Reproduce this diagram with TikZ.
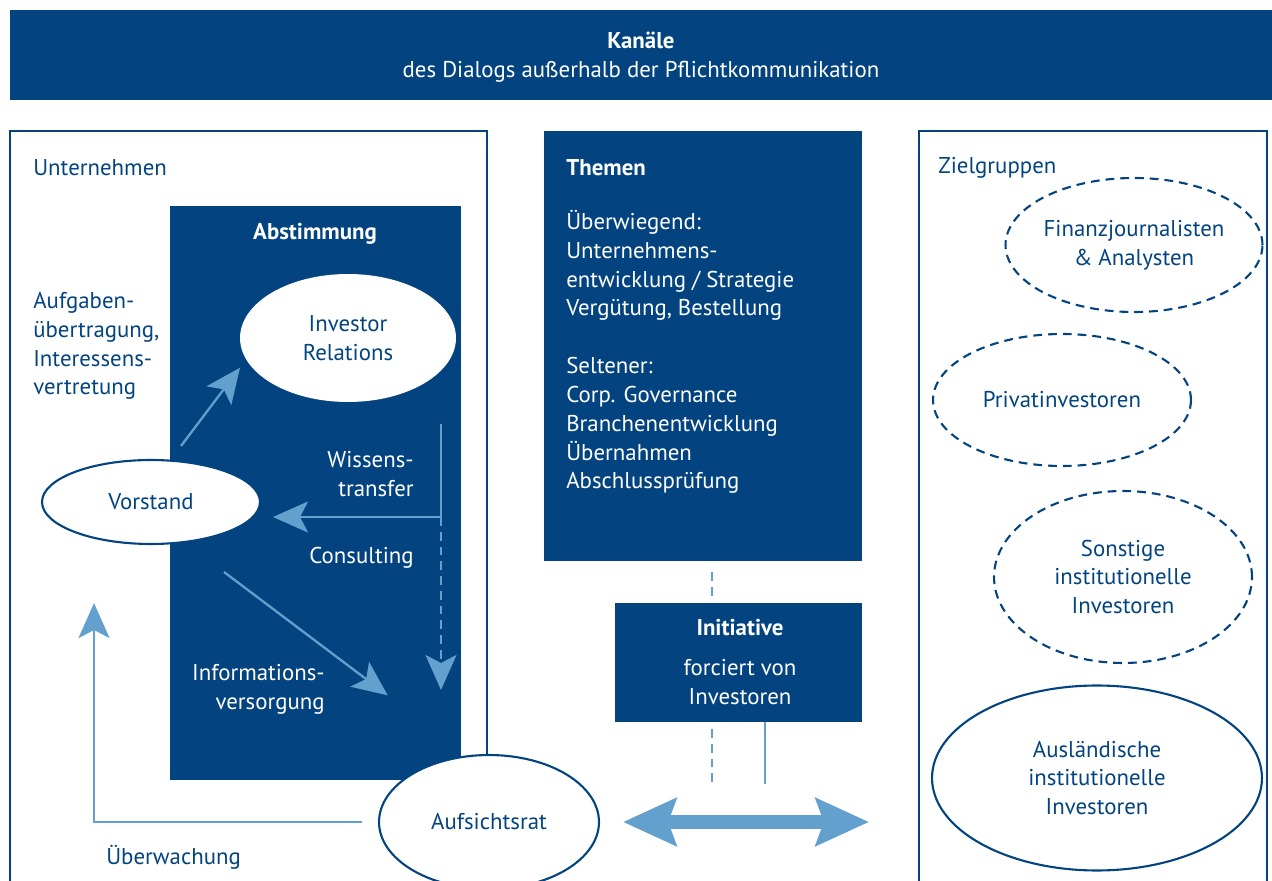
\documentclass[tikz,border=0pt]{standalone}
\usepackage{fontspec}
\setmainfont{PT Sans}
\usetikzlibrary{arrows.meta,shapes.geometric,positioning}

\definecolor{dunkelblau}{RGB}{3,68,128}
\definecolor{hellblau}{RGB}{99,160,206}

\tikzset{
    schrift/.style={font=\fontsize{13}{16.4}\selectfont,inner sep=0pt},
    blautext/.style={schrift,text=dunkelblau},
    weisstext/.style={schrift,text=white},
    kasten/.style={fill=dunkelblau,draw=none,inner sep=0pt},
    rahmen/.style={draw=dunkelblau,line width=1.2pt},
    oval/.style={ellipse,schrift,align=center,inner sep=0pt},
    gestrichelt/.style={dash pattern=on 5pt off 3.4pt},
    duenn/.style={draw=hellblau,line width=1.3pt},
    duennpfeil/.style={duenn,-{Stealth[length=0.7cm,width=0.62cm,inset=0.16cm]}},
    doppelpfeil/.style={draw=hellblau,line width=0.3cm,
        {Stealth[length=1.06cm,width=0.94cm,inset=0.16cm]}-{Stealth[length=1.06cm,width=0.94cm,inset=0.16cm]}}
}

\begin{document}
\begin{tikzpicture}[x=0.02cm,y=-0.02cm]

% Fix the page size.
\useasboundingbox (0,0) rectangle (1272,881);

% Title banner.
\node[kasten,minimum width=25.24cm,minimum height=1.8cm] (banner) at (641,55) {};
\node[weisstext,align=center] (kanaele) at (641,57)
    {\textbf{Kanäle}\\des Dialogs außerhalb der Pflichtkommunikation};

% Left frame: Unternehmen.
\draw[rahmen]
    (10,890) -- (10,131)
    -- (487,131)
    -- (487,790);
\node[blautext,anchor=west] (unternehmen) at (33,168) {Unternehmen};

% Abstimmung body.
\node[kasten,anchor=north west,minimum width=5.82cm,minimum height=11.48cm]
    (abstimmung) at (170,206) {};
\node[weisstext,font=\fontsize{13}{16.4}\selectfont\bfseries] (abstimmungtitel) at (315,234) {Abstimmung};

% Ellipses inside the left frame.
\node[oval,fill=white,minimum width=4.32cm,minimum height=2.56cm,text=dunkelblau]
    (ir) at (348,338) {Investor\\Relations};
\node[oval,fill=white,rahmen,minimum width=4.36cm,minimum height=1.68cm,text=dunkelblau]
    (vorstand) at (151,502) {Vorstand};

% Labels of the left frame.
\node[blautext,anchor=west,align=left] (aufgaben) at (33,346)
    {Aufgaben-\\übertragung,\\Interessens-\\vertretung};
\node[weisstext,anchor=east,align=right] (wissen) at (414,474) {Wissens-\\transfer};
\node[weisstext,anchor=east] (consulting) at (414,558) {Consulting};
\node[weisstext,anchor=east,align=right] (information) at (325,689) {Informations-\\versorgung};
\node[blautext,anchor=west] (ueberwachung) at (106,857) {Überwachung};

% Arrows inside the left frame.
\coordinate (auf) at (181,446);
\coordinate (wt) at (441,517);
\coordinate (info) at (224,572);
\draw[duennpfeil] (auf) -- ++(53:1.96cm);
\draw[duenn]
    % start above the knee
    (441,424) -- (wt);
\draw[duennpfeil] (wt) -- ++(180:3.36cm);
\draw[duennpfeil,gestrichelt] (wt) -- ++(270:3.46cm);
\draw[duennpfeil] (info) -- ++(-37:4.1cm);

% Aufsichtsrat and the Ueberwachung arrow.
\node[oval,fill=white,rahmen,minimum width=4.4cm,minimum height=2.68cm,text=dunkelblau]
    (aufsichtsrat) at (489,822) {Aufsichtsrat};
\draw[duennpfeil]
    (aufsichtsrat.west) ++(180:0.32cm)
    % go left
    -- ++(180:5.36cm)
    % go up
    -- ++(90:4.38cm);

% Themen box.
\node[kasten,anchor=north west,minimum width=6.36cm,minimum height=8.6cm]
    (themen) at (544,131) {};
\node[weisstext,anchor=west,font=\fontsize{13}{16.4}\selectfont\bfseries] (thementitel) at (566,168) {Themen};
\node[weisstext,anchor=west,align=left] (themenliste) at (566,352)
    {Überwiegend:\\Unternehmens-\\entwicklung / Strategie\\Vergütung, Bestellung\\[16.4pt]
     Seltener:\\Corp. Governance\\Branchenentwicklung\\Übernahmen\\Abschlussprüfung};

% Initiative box.
\node[kasten,anchor=north west,minimum width=4.94cm,minimum height=2.38cm]
    (initiative) at (615,603) {};
\node[weisstext,font=\fontsize{13}{16.4}\selectfont\bfseries] (initiativetitel) at (740,628) {Initiative};
\node[weisstext,align=center] (forciert) at (740,682) {forciert von\\Investoren};

% Links above and below the Initiative box.
\coordinate (t1) at (712,572);
\coordinate (t2) at (712,729);
\coordinate (t3) at (765,722);
\draw[duenn,gestrichelt] (t1) -- ++(270:0.48cm);
\draw[duenn,gestrichelt] (t2) -- ++(270:1.1cm);
\draw[duenn] (t3) -- ++(270:1.24cm);

% Dialog arrow.
\draw[doppelpfeil]
    (aufsichtsrat.east) ++(0:0.46cm) coordinate (dl)
    -- ++(0:4.92cm) coordinate (dr);

% Right frame: Zielgruppen.
\draw[rahmen]
    (919,890) -- (919,131)
    -- (1267,131)
    -- (1267,890);
\node[blautext,anchor=west] (zielgruppen) at (938,168) {Zielgruppen};

% Target groups.
\node[oval,rahmen,gestrichelt,minimum width=5.14cm,minimum height=2.68cm,text=dunkelblau]
    (finanz) at (1134,245) {Finanzjournalisten\\\& Analysten};
\node[oval,rahmen,gestrichelt,minimum width=5.16cm,minimum height=2.64cm,text=dunkelblau]
    (privat) at (1062,400) {Privatinvestoren};
\node[oval,rahmen,gestrichelt,minimum width=5.16cm,minimum height=3.44cm,text=dunkelblau]
    (sonstige) at (1123,577) {Sonstige\\institutionelle\\Investoren};
\node[oval,rahmen,minimum width=6.6cm,minimum height=3.7cm,text=dunkelblau]
    (auslaendisch) at (1097,778) {Ausländische\\institutionelle\\Investoren};

\end{tikzpicture}
\end{document}
